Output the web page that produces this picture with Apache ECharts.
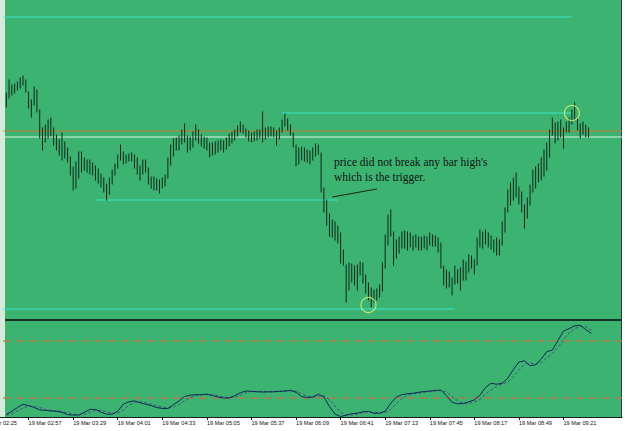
<!DOCTYPE html>
<html><head><meta charset="utf-8">
<script src="https://cdn.jsdelivr.net/npm/echarts@6/dist/echarts.min.js"></script>
<style>html,body{margin:0;padding:0;background:#fff}#c{width:625px;height:431px}</style>
</head><body><div id="c"></div>
<script>
// ---- time axis (2-minute bars) ----
const firstTime = '02:25';
const stepMinutes = 2;
const categoryCount = 230;
const tickLabels = ['19 Mar 02:25','19 Mar 02:57','19 Mar 03:29','19 Mar 04:01','19 Mar 04:33','19 Mar 05:05','19 Mar 05:37','19 Mar 06:09','19 Mar 06:41','19 Mar 07:13','19 Mar 07:45','19 Mar 08:17','19 Mar 08:49','19 Mar 09:21'];

// ---- price bars (points), first bar at barStart, one per 2 minutes ----
const barStart = '02:41';
const barHigh = [
226,239,234,235,237,241,243,239,227,219,
232,229,209,191,194,199,201,191,184,179,
186,177,171,162,152,157,167,167,161,159,
159,156,153,150,145,141,135,141,149,155,
164,174,167,164,165,166,164,161,153,159,
159,151,142,142,140,139,141,144,161,174,
180,181,183,189,195,183,182,187,194,189,
184,182,181,176,176,177,178,179,178,181,
185,187,189,193,197,194,190,188,186,187,
189,189,207,191,192,192,191,188,191,199,
205,200,194,186,174,171,172,171,169,168,
171,175,174,166,131,119,105,99,97,93,
86,69,54,56,55,53,54,57,56,44,
36,31,29,30,34,56,84,104,109,87,
79,82,87,88,87,86,83,84,82,82,
83,82,86,84,83,81,76,53,49,47,
41,53,49,51,59,57,64,63,59,81,
89,87,89,86,83,79,81,79,97,111,
129,136,141,146,132,127,114,121,134,149,
152,155,161,169,176,189,201,196,197,199,
191,197,201,209,216,201,195,197,194,191];
const barLow = [
212,221,224,226,229,231,234,227,211,202,
214,207,181,169,177,181,183,174,169,164,
159,161,157,144,129,131,141,147,149,147,
145,144,139,136,132,127,119,125,135,144,
151,159,155,156,158,158,151,145,139,145,
147,135,131,129,129,126,131,133,141,154,
163,169,169,175,177,167,169,172,179,176,
173,171,169,162,164,165,167,169,167,170,
173,176,179,183,187,186,182,178,177,178,
179,181,177,180,182,183,182,174,180,187,
193,189,184,172,153,155,159,158,157,155,
159,163,165,127,107,94,83,82,79,76,
56,54,17,29,37,34,29,44,36,26,
19,12,17,19,22,28,51,74,83,54,
61,66,71,71,69,72,69,72,69,69,
71,69,74,73,73,67,51,34,31,32,
24,35,36,29,39,39,47,51,45,54,
72,71,75,72,70,67,64,64,74,87,
107,114,119,122,115,107,91,101,114,127,
131,137,139,143,149,162,184,176,179,182,
171,187,187,195,199,189,181,185,182,182];

// ---- horizontal levels drawn on the price chart ----
const levelPrice = [302, 206, 188, 182, 119, 10];
const levelFrom  = ['02:39','05:59','02:39','02:39','03:45','02:39'];
const levelTo    = ['09:27','09:27','10:03','10:03','06:39','08:03'];
const levelKind  = ['cyan','cyan','orange','white','cyan','cyan'];
const pointerFrom = ['06:35', 122];
const pointerTo   = ['07:07', 130];
const circleTimes = ['07:01','09:27'];
const circlePrices = [14, 206];
const noteLines = ["price did not break any bar high's", 'which is the trigger.'];

// ---- stochastic oscillator, sampled every 4 minutes from stochStart ----
const stochStart = '02:41';
const stochK = [2.8,6,10,13.4,12,10,7.5,7,6.3,6,5,2.5,2,2.1,5,8,8,5,3,3,
6,13.5,16,17,15,13.5,12,10,9,9,13,17,21.5,23,23.5,23.5,24,22.5,21,20,
20,22.5,25.5,27.4,27,26.5,26.3,26.5,26.6,27,27.4,28,26,21.5,20.5,21,24,21,11,3,
0.5,2,3.5,4,5.5,6,3.9,4,6,14.4,21,23.5,24.5,25,26,26.8,27.3,28,28.2,22.4,
15.5,13.8,14.2,16,18,23,31,35.5,34.5,35.5,41,50,58,59,54,55,61,68.7,70.5,80.5,
90.5,93,96,96.5,92,88];
const stochD = [2,3.5,6.5,9.5,11.5,11.5,10,8,7,6.5,5.8,4.5,3,2.2,3,5,7,7,5.5,3.8,
4,7.5,12,15.5,16,15,13.5,12,10.5,9.3,10.5,13,17,20.5,22.5,23.3,23.6,23.5,22.5,21.2,
20.3,21,23,25.5,26.8,27,26.6,26.4,26.5,26.8,27.2,27.6,27.3,24.5,22,21,22,22.3,18,11.5,
5,1.8,2,3.2,4.5,5.2,5,4.5,4.6,8,14,19.5,23,24.3,25.2,26,26.7,27.4,28,26.2,
21.8,17,14.5,14.5,16,18.5,24,28.5,32.5,34.8,37,42,49.5,55.5,57,55.5,57,62,67,73,
81,88.5,93,95.5,95,91.5];
const stochLevels = [80, 20];

// ---- build categories ----
function toMin(t){const p=t.split(':');return (+p[0])*60+(+p[1]);}
function toTime(m){const h=Math.floor(m/60),mm=m%60;return (h<10?'0':'')+h+':'+(mm<10?'0':'')+mm;}
const categories=[];
for(let i=0;i<categoryCount;i++) categories.push(toTime(toMin(firstTime)+i*stepMinutes));
const tickSet=new Set(tickLabels);
const isTick=(idx,val)=>tickSet.has('19 Mar '+val);

const b0=categories.indexOf(barStart);
const barData=barHigh.map((h,k)=>[b0+k, barLow[k], h]);
const s0=categories.indexOf(stochStart);
const kData=stochK.map((v,k)=>[s0+2*k, v]);
const dData=stochD.map((v,k)=>[s0+2*k, v]);

const GREEN='#3cb371';
const levelColor={cyan:'#36e6cc', orange:'#c87a36', white:'#dff3e4'};

const series=[
  {type:'custom',xAxisIndex:0,yAxisIndex:0,data:barData,silent:true,z:3,
   encode:{x:0,y:[1,2]},
   renderItem:function(params,api){
     const a=api.coord([api.value(0),api.value(1)]);
     const b=api.coord([api.value(0),api.value(2)]);
     return {type:'line',shape:{x1:a[0],y1:a[1]+0.5,x2:b[0],y2:b[1]-0.5},style:{stroke:'#0f2818',lineWidth:1}};
   }}
];
levelPrice.forEach((p,k)=>{
  series.push({type:'line',xAxisIndex:0,yAxisIndex:0,silent:true,z:2,showSymbol:false,
    data:[[levelFrom[k],p],[levelTo[k],p]],
    lineStyle:{color:levelColor[levelKind[k]],width:1}});
});
series.push({type:'line',xAxisIndex:0,yAxisIndex:0,silent:true,z:4,showSymbol:false,
  data:[pointerFrom,pointerTo],lineStyle:{color:'#16261a',width:1}});
series.push({type:'scatter',xAxisIndex:0,yAxisIndex:0,silent:true,z:5,
  data:circleTimes.map((t,k)=>[t,circlePrices[k]]),
  symbol:'circle',symbolSize:15,
  itemStyle:{color:'rgba(0,0,0,0)',borderColor:'#dcf07a',borderWidth:1.2}});
stochLevels.forEach(v=>{
  series.push({type:'line',xAxisIndex:1,yAxisIndex:1,silent:true,z:2,showSymbol:false,
    data:[[categories[7],v],[categories[categoryCount-1],v]],
    lineStyle:{color:'#a8804e',width:1.6,type:[8,5]}});
});
series.push({type:'line',xAxisIndex:1,yAxisIndex:1,data:dData,showSymbol:false,silent:true,z:3,
   lineStyle:{color:'#3d5a72',width:1,type:[3,2]}});
series.push({type:'line',xAxisIndex:1,yAxisIndex:1,data:kData,showSymbol:false,silent:true,z:4,
   lineStyle:{color:'#10285a',width:1}});

const chart=echarts.init(document.getElementById('c'),null,{renderer:'svg'});
chart.setOption({
  animation:false,
  backgroundColor:'#ffffff',
  textStyle:{fontFamily:'Liberation Sans'},
  grid:[
    {left:-16,right:3,top:0,height:319,outerBoundsMode:'none',containLabel:false,show:false},
    {left:-16,right:3,top:322,height:95,outerBoundsMode:'none',containLabel:false,show:false}
  ],
  xAxis:[
    {type:'category',gridIndex:0,data:categories,boundaryGap:false,show:false},
    {type:'category',gridIndex:1,data:categories,boundaryGap:false,
     axisLine:{show:true,lineStyle:{color:'#1e1e1e',width:1}},
     axisTick:{show:true,interval:isTick,length:3,lineStyle:{color:'#1e1e1e'}},
     axisLabel:{show:true,interval:isTick,formatter:v=>'19 Mar '+v,align:'left',
       fontSize:5.6,color:'#111',margin:3,fontFamily:'Liberation Sans'},
     splitLine:{show:false}}
  ],
  yAxis:[
    {type:'value',gridIndex:0,min:0,max:319,show:false},
    {type:'value',gridIndex:1,min:0,max:100,show:false}
  ],
  graphic:[
    {type:'rect',z:-10,silent:true,shape:{x:5,y:0,width:616,height:417},style:{fill:GREEN}},
    {type:'rect',z:-10,silent:true,shape:{x:0,y:0,width:5,height:417},style:{fill:'#d3ebd8'}},
    {type:'rect',z:-10,silent:true,shape:{x:621,y:0,width:1,height:418},style:{fill:'#2e3b33'}},
    {type:'rect',z:50,silent:true,shape:{x:5,y:319,width:616,height:2},style:{fill:'#163021'}},
    {type:'text',z:50,silent:true,x:334,y:162,style:{text:noteLines[0],font:'11.5px "Liberation Serif"',fill:'#141414',textVerticalAlign:'middle'}},
    {type:'text',z:50,silent:true,x:334,y:177,style:{text:noteLines[1],font:'11.5px "Liberation Serif"',fill:'#141414',textVerticalAlign:'middle'}}
  ],
  series:series
});
</script></body></html>
